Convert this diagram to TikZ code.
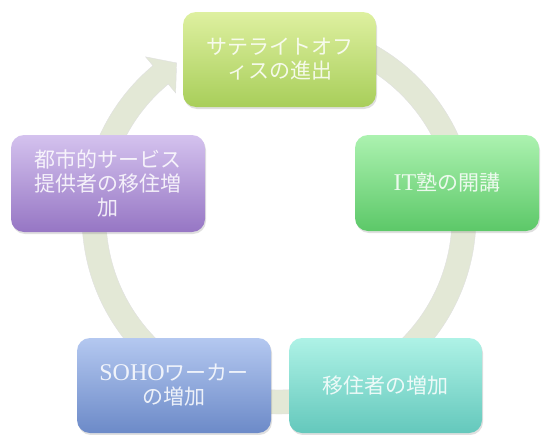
\documentclass[tikz,border=0pt]{standalone}
\usepackage{fontspec}
\setmainfont{Liberation Serif}
\newfontfamily\jp{Noto Sans CJK JP}
\usetikzlibrary{shadows}
\newcommand{\latn}[1]{{\fontsize{24}{24}\selectfont #1}}
\definecolor{ringc}{HTML}{E3E8D6}
\definecolor{topA}{HTML}{DEF0A0}\definecolor{topB}{HTML}{A8CE5A}
\definecolor{rgtA}{HTML}{ACF2B0}\definecolor{rgtB}{HTML}{5CC868}
\definecolor{brA}{HTML}{AEF2E6}\definecolor{brB}{HTML}{64C8BC}
\definecolor{blA}{HTML}{B4C8F0}\definecolor{blB}{HTML}{6C8AC8}
\definecolor{lfA}{HTML}{D4C2EE}\definecolor{lfB}{HTML}{9676C4}
\tikzset{
  stepbox/.style={rectangle, rounded corners=13pt, inner sep=0pt,
    align=center, text=white, text opacity=0.85,
    font=\fontsize{21}{24}\selectfont,
    drop shadow={opacity=0.25, shadow xshift=1pt, shadow yshift=-2pt}},
  ringstyle/.style={fill=ringc, draw=black!12, line width=0.4pt}
}
\begin{document}
\begin{tikzpicture}[x=1pt, y=-1pt]
\useasboundingbox (0,0) rectangle (541,434);
% circular arrow ring
\begin{scope}[shift={(279,217)}]
  \path[ringstyle]
    (100:197pt) arc[start angle=100, end angle=-230.2, radius=197pt]
    -- (129.8:208.5pt) -- (123.6:185pt) -- (129.8:161.5pt)
    -- (129.8:173pt) arc[start angle=-230.2, end angle=100, radius=173pt]
    -- cycle;
\end{scope}
% boxes
\node[stepbox, top color=topA, bottom color=topB, minimum width=193pt, minimum height=95pt]
  (n1) at (279.5,59.5) {\jp サテライトオフ\\\jp ィスの進出};
\node[stepbox, top color=rgtA, bottom color=rgtB, minimum width=184pt, minimum height=96pt]
  (n2) at (447,183) {\latn{IT}{\jp 塾の開講}};
\node[stepbox, top color=brA, bottom color=brB, minimum width=193pt, minimum height=95pt]
  (n3) at (385.5,385.5) {\jp 移住者の増加};
\node[stepbox, top color=blA, bottom color=blB, minimum width=194pt, minimum height=95pt]
  (n4) at (174,385.5) {\latn{SOHO}{\jp ワーカー}\\\jp の増加};
\node[stepbox, top color=lfA, bottom color=lfB, minimum width=194pt, minimum height=97pt]
  (n5) at (108,183.5) {\jp 都市的サービス\\\jp 提供者の移住増\\\jp 加};
\end{tikzpicture}
\end{document}
